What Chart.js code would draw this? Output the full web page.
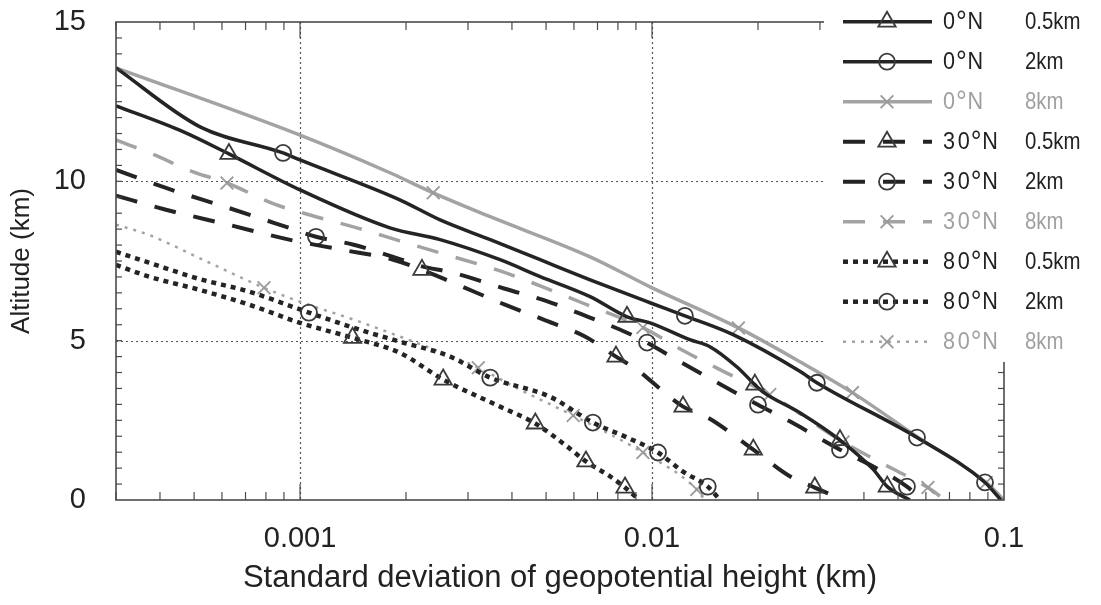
<!DOCTYPE html>
<html>
<head>
<meta charset="utf-8">
<script src="https://cdn.jsdelivr.net/npm/chart.js@4/dist/chart.umd.min.js"></script>
<style>
  html, body { margin: 0; padding: 0; background: #fff; }
  #wrap { width: 1101px; height: 605px; position: relative; }
</style>
</head>
<body>
<div id="wrap"><canvas id="sdChart"></canvas></div>
<script>
// axis ticks
const sdTicks = [0.001, 0.01, 0.1];
const sdTickLabels = ['0.001', '0.01', '0.1'];
const altTicks = [0, 5, 10, 15];
const sdGrid = [0.001, 0.01];
const altGrid = [5, 10];

// legend parts
const latitudes = ['0', '30', '80'];
const levels = ['0.5km', '2km', '8km'];

// [standard deviation (km), altitude (km)] per latitude / level
const eq05 = [[0.0003, 12.37], [0.000465, 11.56], [0.000628, 10.86], [0.001, 9.73], [0.0018, 8.54],
  [0.0025, 8.17], [0.0037, 7.54], [0.00481, 7.01], [0.00667, 6.38], [0.00849, 5.75], [0.00987, 5.56],
  [0.0128, 5.03], [0.0146, 4.81], [0.0174, 4.18], [0.0196, 3.62], [0.0206, 3.40], [0.0263, 2.74],
  [0.0342, 1.88], [0.0425, 0.96], [0.0466, 0.42], [0.054, 0]];
const eq05Marks = [2, 9, 14, 17, 19];

const eq2 = [[0.0003, 13.56], [0.00052, 11.71], [0.000895, 10.89], [0.001, 10.67], [0.00192, 9.42],
  [0.0025, 8.79], [0.00347, 8.17], [0.00481, 7.54], [0.00667, 6.91], [0.00987, 6.19], [0.0124, 5.78],
  [0.017, 5.19], [0.0263, 4.04], [0.0294, 3.68], [0.0566, 1.96], [0.0883, 0.55], [0.098, 0]];
const eq2Marks = [2, 10, 13, 14, 15];

const eq8 = [[0.0003, 13.56], [0.001, 11.45], [0.0018, 10.27], [0.00239, 9.64], [0.00347, 8.89],
  [0.00667, 7.63], [0.00987, 6.69], [0.0176, 5.4], [0.0263, 4.34], [0.0371, 3.37], [0.0566, 1.99],
  [0.089, 0.55], [0.1, 0]];
const eq8Marks = [3, 7, 9, 11];

const mid05 = [[0.0003, 9.55], [0.000416, 9.11], [0.000625, 8.64], [0.000931, 8.17], [0.00132, 7.85],
  [0.00184, 7.54], [0.00222, 7.22], [0.00272, 6.82], [0.00382, 6.13], [0.005, 5.63], [0.00645, 5.13],
  [0.0079, 4.5], [0.00906, 4.09], [0.0111, 3.28], [0.01225, 2.93], [0.0144, 2.59], [0.0194, 1.58],
  [0.0247, 0.74], [0.029, 0.39], [0.0349, 0]];
const mid05Marks = [6, 11, 14, 16, 18];

const mid2 = [[0.0003, 10.36], [0.000414, 9.8], [0.000625, 9.17], [0.000931, 8.54], [0.00111, 8.26],
  [0.00142, 8.01], [0.00184, 7.63], [0.00219, 7.35], [0.00272, 7.13], [0.00382, 6.63], [0.005, 6.25],
  [0.00658, 5.75], [0.00849, 5.25], [0.00968, 4.94], [0.0111, 4.56], [0.0146, 3.81], [0.02, 2.99],
  [0.0247, 2.46], [0.0342, 1.58], [0.0425, 1.05], [0.053, 0.42], [0.0585, 0]];
const mid2Marks = [4, 13, 16, 18, 20];

const mid8 = [[0.0003, 11.3], [0.00038, 10.86], [0.000497, 10.3], [0.00062, 9.95], [0.000843, 9.29],
  [0.00111, 8.89], [0.00145, 8.54], [0.00192, 8.13], [0.00267, 7.66], [0.0037, 7.19], [0.00481, 6.72],
  [0.00632, 6.19], [0.00942, 5.41], [0.0124, 4.66], [0.016, 4.03], [0.0216, 3.31], [0.0349, 1.82],
  [0.0475, 1.02], [0.0608, 0.39], [0.068, 0]];
const mid8Marks = [3, 12, 15, 16, 18];

const pol05 = [[0.0003, 7.38], [0.000372, 7.01], [0.000516, 6.6], [0.000716, 6.13], [0.001, 5.56],
  [0.00141, 5.09], [0.00192, 4.62], [0.00255, 3.78], [0.0037, 2.93], [0.00466, 2.4], [0.00574, 1.68],
  [0.00649, 1.21], [0.0076, 0.74], [0.00838, 0.39], [0.0092, 0]];
const pol05Marks = [5, 7, 9, 11, 13];

const pol2 = [[0.0003, 7.79], [0.000372, 7.45], [0.000516, 6.94], [0.000716, 6.54], [0.00106, 5.88],
  [0.00148, 5.34], [0.00192, 4.97], [0.00267, 4.5], [0.00347, 3.84], [0.00513, 3.24], [0.00679, 2.43],
  [0.0085, 1.96], [0.0104, 1.49], [0.01225, 0.89], [0.0144, 0.42], [0.0156, 0]];
const pol2Marks = [4, 8, 10, 12, 14];

const pol8 = [[0.0003, 8.64], [0.000372, 8.32], [0.000516, 7.6], [0.00079, 6.66], [0.001, 6.22],
  [0.00142, 5.66], [0.00192, 5.13], [0.00298, 4.31], [0.00321, 4.15], [0.00422, 3.46], [0.00597, 2.65],
  [0.00942, 1.49], [0.0134, 0.33], [0.0141, 0]];
const pol8Marks = [3, 8, 10, 11, 12];

const series = [
  [eq05, eq05Marks], [eq2, eq2Marks], [eq8, eq8Marks],
  [mid05, mid05Marks], [mid2, mid2Marks], [mid8, mid8Marks],
  [pol05, pol05Marks], [pol2, pol2Marks], [pol8, pol8Marks],
];

const FONT = "'Liberation Sans', Arial, sans-serif";
const INK = '#242424';
const GREY = '#a3a3a3';
const markers = ['triangle', 'circle', 'crossRot'];
const markerSize = [10, 8, 9];

function lineStyle(lat, lev) {
  const grey = lev === 2;
  let dash = [];
  let width = 3.5;
  if (lat === 1) { dash = [22, 18]; width = grey ? 3.5 : 4; }
  if (lat === 2) { dash = grey ? [3, 6] : [5, 5]; width = grey ? 2.5 : 4.5; }
  return { color: grey ? GREY : INK, dash, width, markColor: grey ? '#9a9a9a' : '#3a3a3a' };
}

const datasets = series.map(([pts, marks], i) => {
  const lat = Math.floor(i / 3), lev = i % 3;
  const st = lineStyle(lat, lev);
  const r = markerSize[lev];
  return {
    label: latitudes[lat] + '°N ' + levels[lev],
    lat, lev,
    data: pts.map(([x, y]) => ({ x, y })),
    showLine: true,
    borderColor: st.color,
    borderWidth: st.width,
    borderDash: st.dash,
    cubicInterpolationMode: 'monotone',
    pointStyle: markers[lev],
    pointRadius: c => marks.includes(c.dataIndex) ? r : 0,
    pointHoverRadius: c => marks.includes(c.dataIndex) ? r : 0,
    pointBorderWidth: 1.8,
    pointBorderColor: st.markColor,
    pointBackgroundColor: 'rgba(0,0,0,0)',
    markColor: st.markColor,
    markSize: r,
  };
});

function seg(ctx, x1, y1, x2, y2) {
  ctx.beginPath();
  ctx.moveTo(x1, y1);
  ctx.lineTo(x2, y2);
  ctx.stroke();
}

// dotted grid under the curves, box and inward ticks above them
const framePlugin = {
  id: 'frame',
  beforeDatasetsDraw(chart) {
    const { ctx, chartArea: a, scales: { x, y } } = chart;
    ctx.save();
    ctx.strokeStyle = '#555';
    ctx.lineWidth = 1.2;
    ctx.setLineDash([2, 3]);
    sdGrid.forEach(v => {
      const px = Math.round(x.getPixelForValue(v)) + 0.5;
      seg(ctx, px, a.top, px, a.bottom);
    });
    altGrid.forEach(v => {
      const py = Math.round(y.getPixelForValue(v)) + 0.5;
      seg(ctx, a.left, py, a.right, py);
    });
    ctx.restore();
  },
  afterDatasetsDraw(chart) {
    const { ctx, chartArea: a, scales: { x, y } } = chart;
    ctx.save();
    ctx.strokeStyle = '#4a4a4a';
    ctx.lineWidth = 1.6;
    ctx.strokeRect(a.left, a.top, a.right - a.left, a.bottom - a.top);
    ctx.lineWidth = 1.2;
    for (let v = 0.5; v < 15; v += 0.5) {
      const py = y.getPixelForValue(v);
      seg(ctx, a.left, py, a.left + 6, py);
      seg(ctx, a.right, py, a.right - 6, py);
    }
    for (let d = 1e-4; d < 0.1; d *= 10) {
      for (let m = 1; m <= 9; m++) {
        const v = m * d;
        if (v < x.min || v > x.max) continue;
        const px = x.getPixelForValue(v);
        const len = m === 1 ? 16 : 8;
        seg(ctx, px, a.bottom, px, a.bottom - len);
        seg(ctx, px, a.top, px, a.top + len);
      }
    }
    ctx.restore();
  }
};

function drawMark(ctx, style, r, x, y) {
  ctx.beginPath();
  if (style === 'circle') {
    ctx.arc(x, y, r, 0, Math.PI * 2);
  } else if (style === 'triangle') {
    ctx.moveTo(x, y - r);
    ctx.lineTo(x + r * 0.866, y + r / 2);
    ctx.lineTo(x - r * 0.866, y + r / 2);
    ctx.closePath();
  } else {
    const d = r * 0.707;
    ctx.moveTo(x - d, y - d); ctx.lineTo(x + d, y + d);
    ctx.moveTo(x + d, y - d); ctx.lineTo(x - d, y + d);
  }
  ctx.stroke();
}

// "30°N" with spaced digits and a raised ring, then the level
function drawKeyText(ctx, lat, lev, yy) {
  ctx.textBaseline = 'middle';
  ctx.save();
  ctx.font = '24px ' + FONT;
  ctx.letterSpacing = '3px';
  ctx.translate(943, yy + 1);
  ctx.scale(0.9, 1);
  ctx.fillText(lat, 0, 0);
  let w = ctx.measureText(lat).width;
  ctx.letterSpacing = '0px';
  ctx.font = '30px ' + FONT;
  ctx.fillText('°', w - 2, 0);
  w += ctx.measureText('°').width - 1;
  ctx.font = '24px ' + FONT;
  ctx.fillText('N', w, 0);
  ctx.restore();
  ctx.save();
  ctx.font = '24px ' + FONT;
  ctx.letterSpacing = '0px';
  ctx.translate(1025, yy + 1);
  ctx.scale(0.85, 1);
  ctx.fillText(lev, 0, 0);
  ctx.restore();
}

// legend box in the top right corner, over the plot frame
const keyPlugin = {
  id: 'key',
  afterDraw(chart) {
    const ctx = chart.ctx;
    ctx.save();
    ctx.fillStyle = '#fff';
    ctx.fillRect(824, 0, 277, 362);
    chart.data.datasets.forEach((ds, i) => {
      const yy = 21.7 + 40 * i;
      ctx.strokeStyle = ds.borderColor;
      ctx.lineWidth = ds.borderWidth;
      ctx.setLineDash(ds.borderDash);
      seg(ctx, 843, yy, 932, yy);
      ctx.setLineDash([]);
      ctx.strokeStyle = ds.markColor;
      ctx.lineWidth = 1.8;
      drawMark(ctx, ds.pointStyle, ds.markSize, 887, yy);
      ctx.fillStyle = ds.lev === 2 ? '#a0a0a0' : '#222';
      drawKeyText(ctx, latitudes[ds.lat], levels[ds.lev], yy);
    });
    ctx.restore();
  }
};

new Chart(document.getElementById('sdChart'), {
  type: 'scatter',
  data: { datasets },
  options: {
    responsive: true,
    maintainAspectRatio: false,
    animation: false,
    events: [],
    layout: { padding: { top: 22, right: 97, left: 0, bottom: 0 } },
    plugins: { legend: { display: false }, tooltip: { enabled: false } },
    scales: {
      x: {
        type: 'logarithmic',
        min: 0.0003,
        max: 0.1,
        afterBuildTicks: s => { s.ticks = sdTicks.map(v => ({ value: v })); },
        afterFit: s => { s.height = 105; },
        grid: { display: false, drawTicks: false },
        border: { display: false },
        ticks: {
          autoSkip: false,
          maxRotation: 0,
          padding: 22,
          color: '#222',
          font: { family: FONT, size: 29 },
          callback: v => sdTickLabels[sdTicks.indexOf(v)] ?? '',
        },
        title: {
          display: true,
          text: 'Standard deviation of geopotential height (km)',
          color: '#222',
          font: { family: FONT, size: 31 },
          padding: { top: 8, bottom: 8 },
        },
      },
      y: {
        min: 0,
        max: 15,
        afterBuildTicks: s => { s.ticks = altTicks.map(v => ({ value: v })); },
        afterFit: s => {
          s.width = 116;
          s.paddingTop = 10;
          s.paddingBottom = 10;
        },
        grid: { display: false, drawTicks: false },
        border: { display: false },
        ticks: {
          padding: 30,
          color: '#222',
          font: { family: FONT, size: 29 },
        },
        title: {
          display: true,
          text: 'Altitude (km)',
          color: '#222',
          font: { family: FONT, size: 26 },
          padding: { top: 6, bottom: 6 },
        },
      },
    },
  },
  plugins: [framePlugin, keyPlugin],
});
</script>
</body>
</html>
